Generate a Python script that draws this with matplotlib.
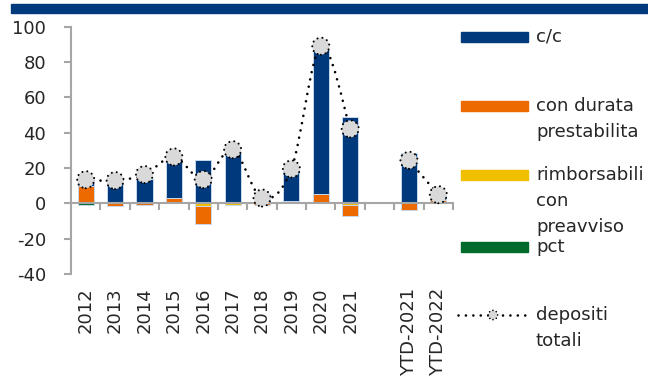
import numpy as np
import matplotlib.pyplot as plt
from matplotlib.path import Path
from matplotlib.patches import PathPatch, Rectangle
from matplotlib.lines import Line2D
import matplotlib.transforms as mtransforms

plt.rcParams['font.family'] = ['DejaVu Sans']
plt.rcParams['axes.unicode_minus'] = False

# --- Data (variazioni annue, mld) ---
categories = ["2012", "2013", "2014", "2015", "2016", "2017", "2018",
              "2019", "2020", "2021", "", "YTD-2021", "YTD-2022"]
cc     = [2.5, 11.9, 13.8, 21.2, 24.8, 27.7, 5.3, 18.4, 81.9, 48.8, 0.0, 28.5, 2.5]
durata = [10.0, -1.5, -1.0, 2.8, -10.0, 1.0, -1.0, 1.3, 5.3, -5.8, 0.0, -3.8, 1.0]
rimb   = [0.0, 0.0, 0.0, 0.0, -1.5, -1.0, 0.0, 0.0, 0.0, -1.2, 0.0, 0.0, 1.0]
pct    = [-1.2, 0.0, 0.0, 0.0, 0.0, 0.0, 0.0, 0.0, 0.0, 0.0, 0.0, 0.0, 0.0]
totali = [13.4, 12.9, 16.3, 26.3, 13.5, 30.4, 3.0, 19.5, 89.0, 42.2, np.nan, 24.4, 4.9]

BLUE = "#003a7d"
ORANGE = "#ec6a00"
YELLOW = "#f0bf00"
GREEN = "#006b2d"
GREY = "#a6a6a6"
TXT = "#262626"


def smooth_path(xs, ys):
    # Catmull-Rom style cubic Bezier through the points
    pts = np.column_stack([xs, ys])
    verts = [tuple(pts[0])]
    codes = [Path.MOVETO]
    n = len(pts)
    for i in range(n - 1):
        p0 = pts[max(i - 1, 0)]
        p1 = pts[i]
        p2 = pts[i + 1]
        p3 = pts[min(i + 2, n - 1)]
        c1 = p1 + (p2 - p0) / 6
        c2 = p2 - (p3 - p1) / 6
        verts += [tuple(c1), tuple(c2), tuple(p2)]
        codes += [Path.CURVE4] * 3
    return Path(verts, codes)


fig = plt.figure(figsize=(6.48, 3.79), dpi=100)
ax = fig.add_axes([71 / 648, 1 - 274 / 379, 382 / 648, 247.2 / 379])

x = np.arange(len(categories))
pos_base = np.zeros(len(x))
neg_base = np.zeros(len(x))
for vals, color in [(pct, GREEN), (rimb, YELLOW), (durata, ORANGE), (cc, BLUE)]:
    v = np.array(vals)
    base = np.where(v >= 0, pos_base, neg_base)
    lw = np.where(v == 0, 0, 0.7)
    ax.bar(x, v, 0.55, bottom=base, color=color, edgecolor="#c9d8ec",
           linewidth=lw, zorder=2)
    pos_base += np.clip(v, 0, None)
    neg_base += np.clip(v, None, 0)

# smoothed dotted line for total deposits, split where data is missing
tot = np.array(totali)
valid = ~np.isnan(tot)
segments = []
start = None
for i in range(len(tot)):
    if valid[i] and start is None:
        start = i
    if (not valid[i] or i == len(tot) - 1) and start is not None:
        end = i if valid[i] else i - 1
        segments.append((start, end))
        start = None
for s, e in segments:
    path = smooth_path(x[s:e + 1], tot[s:e + 1])
    ax.add_patch(PathPatch(path, fill=False, edgecolor="black", linewidth=1.9,
                           linestyle=(0, (0.01, 2.8)), capstyle="round", zorder=3))

ax.scatter(x[valid], tot[valid], s=150, facecolor="#d9d9d9", edgecolor="black",
           linewidth=1.5, linestyles=[(0, (0.01, 2.4))], capstyle="round", zorder=4)

# axes styling
ax.set_xlim(-0.5, len(categories) - 0.5)
ax.set_ylim(-40, 100)
ax.set_yticks(np.arange(-40, 101, 20))
ax.tick_params(axis="y", direction="out", length=5, width=1.5, color=GREY,
               labelsize=13, labelcolor=TXT, pad=13)
for side in ["top", "right"]:
    ax.spines[side].set_visible(False)
ax.spines["left"].set_color(GREY)
ax.spines["left"].set_linewidth(1.5)
ax.spines["bottom"].set_position(("data", 0))
ax.spines["bottom"].set_color(GREY)
ax.spines["bottom"].set_linewidth(1.5)
ax.spines["bottom"].set_zorder(2.5)
ax.set_xticks(x, [""] * len(x))
ax.tick_params(axis="x", which="major", length=0)
ax.set_xticks(np.arange(0.5, len(categories)), minor=True)
ax.tick_params(axis="x", which="minor", direction="out", length=5, width=1.5,
               color=GREY)

# category labels under the plot area
trans = mtransforms.blended_transform_factory(ax.transData, ax.transAxes)
for xi, lab in zip(x, categories):
    ax.text(xi, -0.055, lab, transform=trans, rotation=90, ha="center", va="top",
            fontsize=13, color=TXT, clip_on=False)

# header band
fig.patches.append(Rectangle((11 / 648, 1 - 12.7 / 379), 1, 8.7 / 379,
                             transform=fig.transFigure, color=BLUE, zorder=0))

# legend drawn in pixel coordinates
lax = fig.add_axes([0, 0, 1, 1], zorder=-1)
lax.set_xlim(0, 648)
lax.set_ylim(379, 0)
lax.axis("off")
legend_items = [
    (BLUE, 36.7, ["c/c"]),
    (ORANGE, 105.8, ["con durata", "prestabilita"]),
    (YELLOW, 175.0, ["rimborsabili", "con", "preavviso"]),
    (GREEN, 246.7, ["pct"]),
]
for color, yc, lines in legend_items:
    lax.add_patch(Rectangle((461, yc - 5), 67, 10, color=color))
    for k, line in enumerate(lines):
        lax.text(536, yc + k * 26, line, fontsize=13.1, color=TXT, va="center")

lax.add_line(Line2D([458, 527], [315, 315], color="black", linewidth=1.9,
                    linestyle=(0, (0.01, 2.8)), dash_capstyle="round"))
lax.scatter([493], [315], s=45, facecolor="#d9d9d9", edgecolor="black",
            linewidth=1.2, linestyles=[(0, (0.01, 2.2))], capstyle="round", zorder=3)
lax.text(536, 315, "depositi", fontsize=13.1, color=TXT, va="center")
lax.text(536, 341, "totali", fontsize=13.1, color=TXT, va="center")

fig.savefig("out.png", dpi=100)
